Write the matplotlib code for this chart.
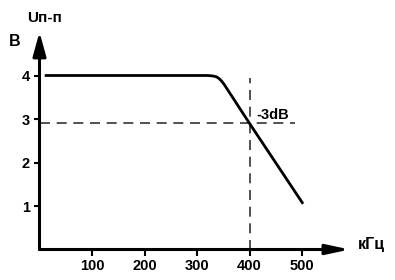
import matplotlib
matplotlib.use("Agg")
import matplotlib.pyplot as plt

# Data
freq = [10, 320, 330, 337, 342, 347, 352, 400, 502]
volts = [4.0, 4.0, 3.99, 3.97, 3.93, 3.87, 3.79, 2.9, 1.05]
cutoff_freq = 400
cutoff_level = 2.9
x_ticks = [100, 200, 300, 400, 500]
y_ticks = [1, 2, 3, 4]
x_unit = "кГц"
y_unit = "В"
y_title = "Uп-п"
note = "-3dB"

plt.rcParams['font.family'] = ['Liberation Sans', 'DejaVu Sans']
plt.rcParams['font.weight'] = 'bold'

W, H = 395, 280
fig = plt.figure(figsize=(W / 100, H / 100), dpi=100)
x0px, y0px = 39.5, 249.5
sx, sy = 0.525, 43.5  # px per data unit
xmax, ymax = 640, 5.6
ax = fig.add_axes([x0px / W, (H - y0px) / H, xmax * sx / W, ymax * sy / H])
ax.set_xlim(0, xmax)
ax.set_ylim(0, ymax)
for s in ax.spines.values():
    s.set_visible(False)

ax.set_xticks(x_ticks)
ax.set_xticklabels([str(v) for v in x_ticks])
ax.set_yticks(y_ticks)
ax.set_yticklabels([str(v) for v in y_ticks])
ax.tick_params(direction='out', length=4, width=1.5, colors='black',
               labelsize=10.5, pad=3)
for lab in ax.get_xticklabels() + ax.get_yticklabels():
    lab.set_fontweight('bold')

# Axes with arrows
ax.annotate('', xy=(591, 0), xytext=(0, 0), annotation_clip=False,
            arrowprops=dict(arrowstyle='-|>,head_length=14,head_width=3.0',
                            mutation_scale=1, lw=2.2, color='black',
                            shrinkA=0, shrinkB=0))
ax.annotate('', xy=(0, 5.0), xytext=(0, 0), annotation_clip=False,
            arrowprops=dict(arrowstyle='-|>,head_length=14.5,head_width=4.0',
                            mutation_scale=1, lw=2.2, color='black',
                            shrinkA=0, shrinkB=0))

# Dashed guides
ax.plot([0, 487], [cutoff_level, cutoff_level], color='#333333', lw=1.2,
        dashes=(6, 4), clip_on=False)
ax.plot([cutoff_freq, cutoff_freq], [0, 3.95], color='#333333', lw=1.2,
        dashes=(6, 4), clip_on=False)

# Curve
ax.plot(freq, volts, color='black', lw=2.0, solid_capstyle='butt',
        solid_joinstyle='round', clip_on=False)

# Texts
ax.text(414, 3.1, note, fontsize=10.5, fontweight='bold', ha='left', va='center')
fig.text(358 / W, 1 - 244 / H, x_unit, fontsize=11.5, fontweight='bold',
         ha='left', va='center')
fig.text(15 / W, 1 - 42 / H, y_unit, fontsize=11.5, fontweight='bold',
         ha='center', va='center')
fig.text(45 / W, 1 - 18 / H, y_title, fontsize=11, fontweight='bold',
         ha='center', va='center')

fig.savefig('out.png', dpi=100)
